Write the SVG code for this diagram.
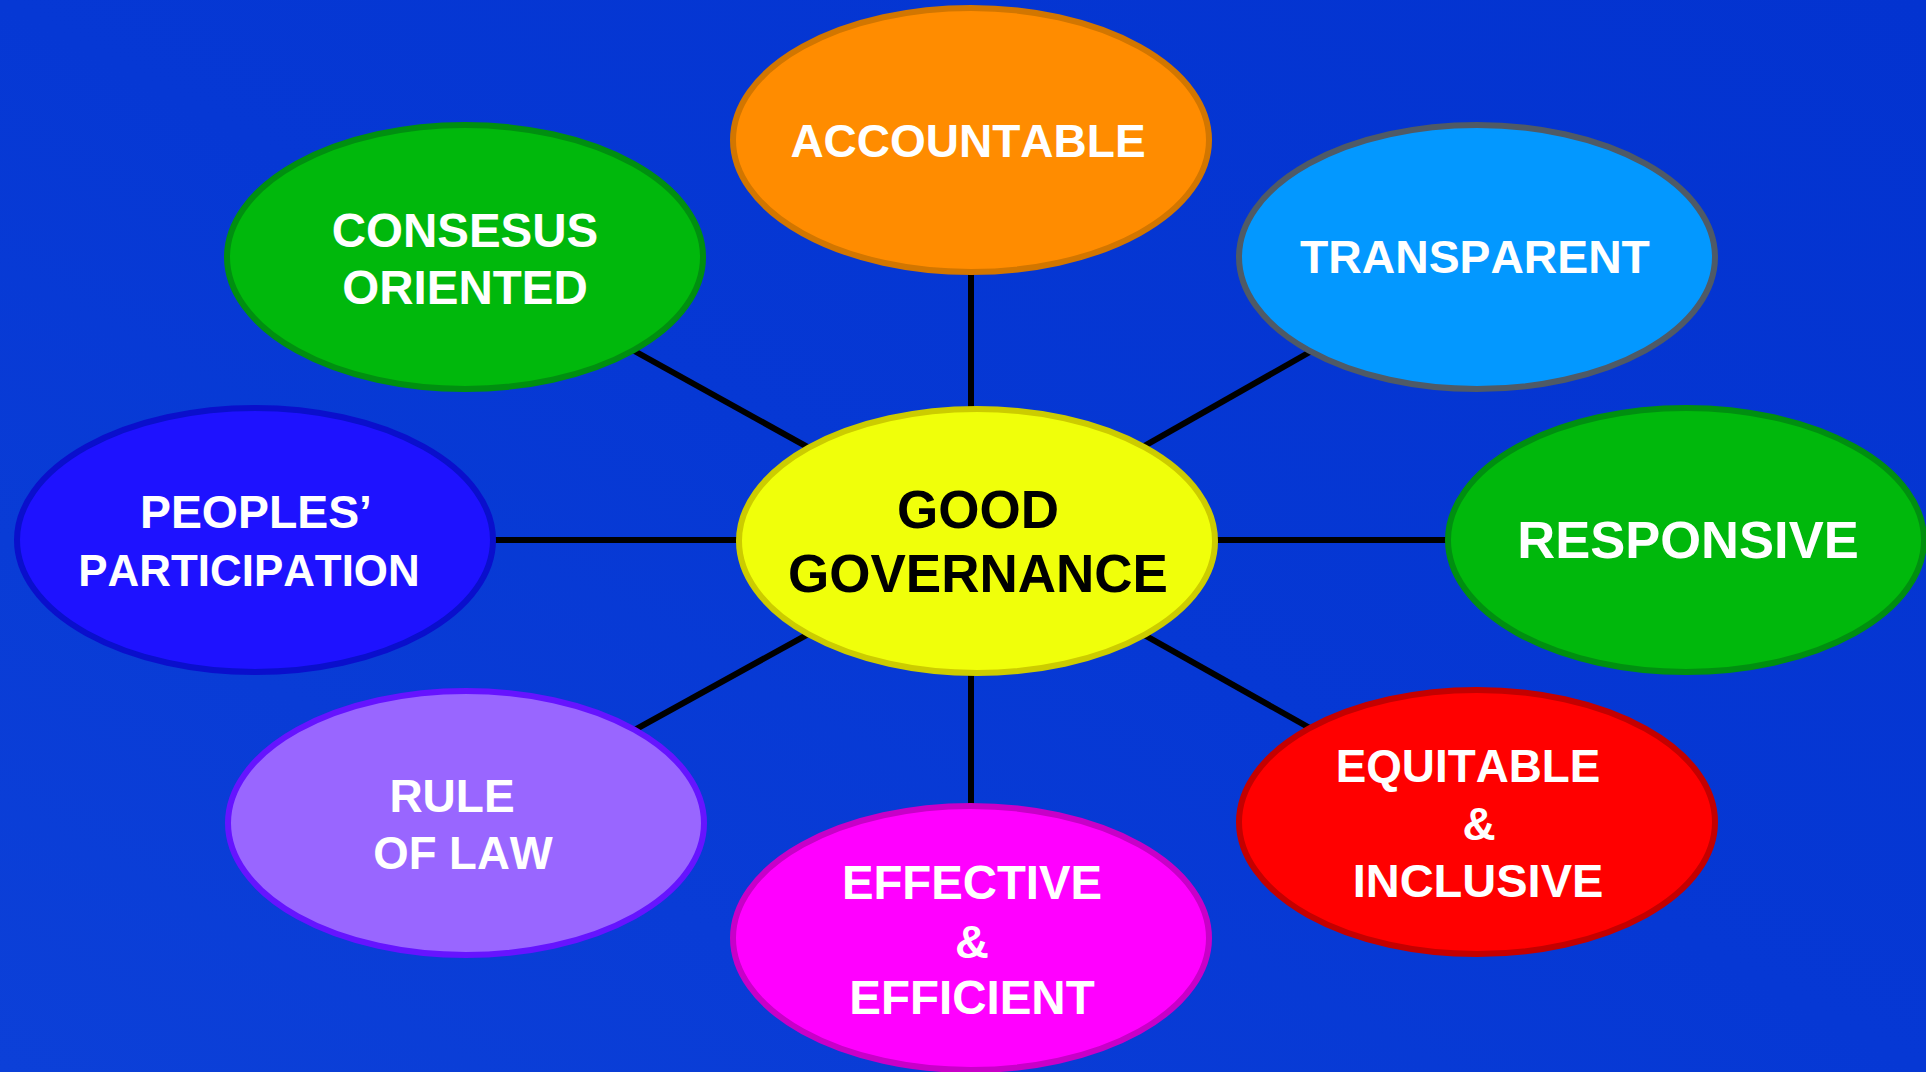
<svg xmlns="http://www.w3.org/2000/svg" width="1926" height="1072" viewBox="0 0 1926 1072">
<defs>
<linearGradient id="bg" x1="0" y1="1" x2="1" y2="0">
<stop offset="0" stop-color="#0c40d8"/>
<stop offset="0.5" stop-color="#0638d4"/>
<stop offset="1" stop-color="#0333d0"/>
</linearGradient>
<style>
.n ellipse{stroke-width:6}
.t{font-family:"Liberation Sans",Arial,sans-serif;font-weight:bold;fill:#ffffff;text-anchor:middle;font-kerning:none;font-feature-settings:"kern" 0}
.k{fill:#000000}
.c line{stroke:#000000;stroke-width:6}
</style>
</defs>
<rect x="0" y="0" width="1926" height="1072" fill="url(#bg)"/>
<g id="connectors" class="c">
<line x1="971" y1="140" x2="971" y2="938"/>
<line x1="255" y1="540" x2="1686" y2="540"/>
<line x1="465" y1="257" x2="977" y2="541"/>
<line x1="1477" y1="257" x2="977" y2="541"/>
<line x1="466" y1="823" x2="977" y2="541"/>
<line x1="1477" y1="822" x2="977" y2="541"/>
</g>
<g id="accountable" class="n">
<ellipse cx="971" cy="140" rx="238" ry="132" fill="#ff8c00" stroke="#d27600"/>
<text class="t" x="968" y="157" font-size="46">ACCOUNTABLE</text>
</g>
<g id="consensus" class="n">
<ellipse cx="465" cy="257" rx="238" ry="132" fill="#00b80c" stroke="#008f10"/>
<text class="t" x="465" y="247" font-size="47.5">CONSESUS</text>
<text class="t" x="465" y="304" font-size="47.5">ORIENTED</text>
</g>
<g id="transparent" class="n">
<ellipse cx="1477" cy="257" rx="238" ry="132" fill="#0398ff" stroke="#4f5a66"/>
<text class="t" x="1475" y="273" font-size="46.3">TRANSPARENT</text>
</g>
<g id="peoples" class="n">
<ellipse cx="255" cy="540" rx="238" ry="132" fill="#1e12ff" stroke="#0a0fcc"/>
<text class="t" x="256" y="528" font-size="46.4">PEOPLES’</text>
<text class="t" x="249" y="586" font-size="43.9">PARTICIPATION</text>
</g>
<g id="good-governance" class="n">
<ellipse cx="977" cy="541" rx="238" ry="132" fill="#f0ff0a" stroke="#cccc00"/>
<text class="t k" x="978" y="528" font-size="53">GOOD</text>
<text class="t k" x="978" y="592" font-size="53">GOVERNANCE</text>
</g>
<g id="responsive" class="n">
<ellipse cx="1686" cy="540" rx="238" ry="132" fill="#00b80c" stroke="#008f10"/>
<text class="t" x="1688" y="558" font-size="52.5">RESPONSIVE</text>
</g>
<g id="rule-of-law" class="n">
<ellipse cx="466" cy="823" rx="238" ry="132" fill="#9966ff" stroke="#6614ff"/>
<text class="t" x="452" y="812" font-size="46">RULE</text>
<text class="t" x="463" y="869" font-size="45.5">OF LAW</text>
</g>
<g id="equitable" class="n">
<ellipse cx="1477" cy="822" rx="238" ry="132" fill="#ff0000" stroke="#c40000"/>
<text class="t" x="1468" y="782" font-size="45.8">EQUITABLE</text>
<text class="t" x="1479" y="840" font-size="46">&amp;</text>
<text class="t" x="1478" y="897" font-size="47">INCLUSIVE</text>
</g>
<g id="effective" class="n">
<ellipse cx="971" cy="938" rx="238" ry="132" fill="#ff00ff" stroke="#c800c8"/>
<text class="t" x="972" y="899" font-size="47.3">EFFECTIVE</text>
<text class="t" x="972" y="958" font-size="47">&amp;</text>
<text class="t" x="972" y="1014" font-size="47.5">EFFICIENT</text>
</g>
</svg>
